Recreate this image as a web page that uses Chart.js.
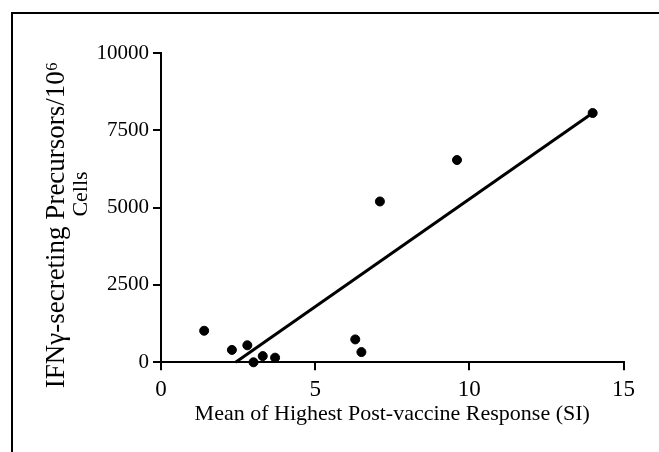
<!DOCTYPE html>
<html>
<head>
<meta charset="utf-8">
<script src="https://cdn.jsdelivr.net/npm/chart.js@4"></script>
<style>
  html, body { margin: 0; padding: 0; background: #fff; }
  #wrap { position: relative; width: 659px; height: 452px; }
</style>
</head>
<body>
<div id="wrap"><canvas id="c" width="659" height="452"></canvas></div>
<script>
// Data
const siValues   = [1.4, 2.3, 2.8, 3.0, 3.3, 3.7, 6.3, 6.5, 7.1, 9.6, 14.0];
const ifnValues  = [1020, 400, 550, 0, 200, 150, 740, 330, 5200, 6540, 8060];
const fitX       = [2.42, 14.0];
const fitY       = [0, 8060];
const xTicks     = [0, 5, 10, 15];
const yTicks     = [0, 2500, 5000, 7500, 10000];
const xTitle     = 'Mean of Highest Post-vaccine Response (SI)';
const yTitleLines = ['IFN\u03B3-secreting Precursors/10\u2076', 'Cells'];

const SERIF = '"Liberation Serif", "Times New Roman", serif';

const framePlugin = {
  id: 'frame',
  beforeDraw(chart) {
    const ctx = chart.ctx;
    ctx.save();
    ctx.fillStyle = '#fff';
    ctx.fillRect(0, 0, chart.width, chart.height);
    ctx.strokeStyle = '#000';
    ctx.lineWidth = 2;
    ctx.beginPath();
    ctx.moveTo(12, chart.height);
    ctx.lineTo(12, 13);
    ctx.lineTo(chart.width, 13);
    ctx.stroke();
    ctx.restore();
  }
};

const yTitlePlugin = {
  id: 'yTitle',
  afterDraw(chart) {
    const ctx = chart.ctx;
    ctx.save();
    ctx.fillStyle = '#000';
    ctx.textAlign = 'center';
    ctx.textBaseline = 'middle';
    const pos = [[57, 225], [81, 194]];
    const sizes = [27, 22];
    yTitleLines.forEach((t, i) => {
      ctx.save();
      ctx.font = sizes[i] + 'px ' + SERIF;
      ctx.translate(pos[i][0], pos[i][1]);
      ctx.rotate(-Math.PI / 2);
      ctx.fillText(t, 0, 0);
      ctx.restore();
    });
    ctx.restore();
  }
};

new Chart(document.getElementById('c'), {
  type: 'scatter',
  data: {
    datasets: [
      {
        label: 'data',
        data: siValues.map((x, i) => ({ x: x, y: ifnValues[i] })),
        backgroundColor: '#000',
        borderColor: '#000',
        pointRadius: 4.5,
        pointHoverRadius: 4.5,
        clip: false,
        order: 1
      },
      {
        label: 'fit',
        type: 'line',
        data: fitX.map((x, i) => ({ x: x, y: fitY[i] })),
        borderColor: '#000',
        borderWidth: 3,
        pointRadius: 0,
        fill: false,
        clip: false,
        order: 2
      }
    ]
  },
  options: {
    responsive: false,
    animation: false,
    events: [],
    layout: { padding: { top: 53, right: 35.5, left: 0, bottom: 0 } },
    plugins: { legend: { display: false }, tooltip: { enabled: false } },
    scales: {
      x: {
        type: 'linear',
        min: 0, max: 15,
        afterBuildTicks(scale) { scale.ticks = xTicks.map(v => ({ value: v })); },
        afterFit(scale) { scale.height = 452 - 362.3; },
        ticks: { color: '#000', font: { family: SERIF, size: 23 }, padding: 6, maxRotation: 0, callback: v => String(v) },
        grid: { display: true, drawOnChartArea: false, drawTicks: true, tickLength: 8, color: '#000', lineWidth: 2 },
        border: { display: true, color: '#000', width: 2 },
        title: { display: true, text: xTitle, color: '#000', font: { family: SERIF, size: 22 }, padding: { top: 0, bottom: 25 } }
      },
      y: {
        type: 'linear',
        min: 0, max: 10000,
        afterBuildTicks(scale) { scale.ticks = yTicks.map(v => ({ value: v })); },
        afterFit(scale) { scale.width = 161; },
        ticks: { color: '#000', font: { family: SERIF, size: 21 }, padding: 4, callback: v => String(v) },
        grid: { display: true, drawOnChartArea: false, drawTicks: true, tickLength: 8, color: '#000', lineWidth: 2 },
        border: { display: true, color: '#000', width: 2 },
        title: { display: false }
      }
    }
  },
  plugins: [framePlugin, yTitlePlugin]
});
</script>
</body>
</html>
